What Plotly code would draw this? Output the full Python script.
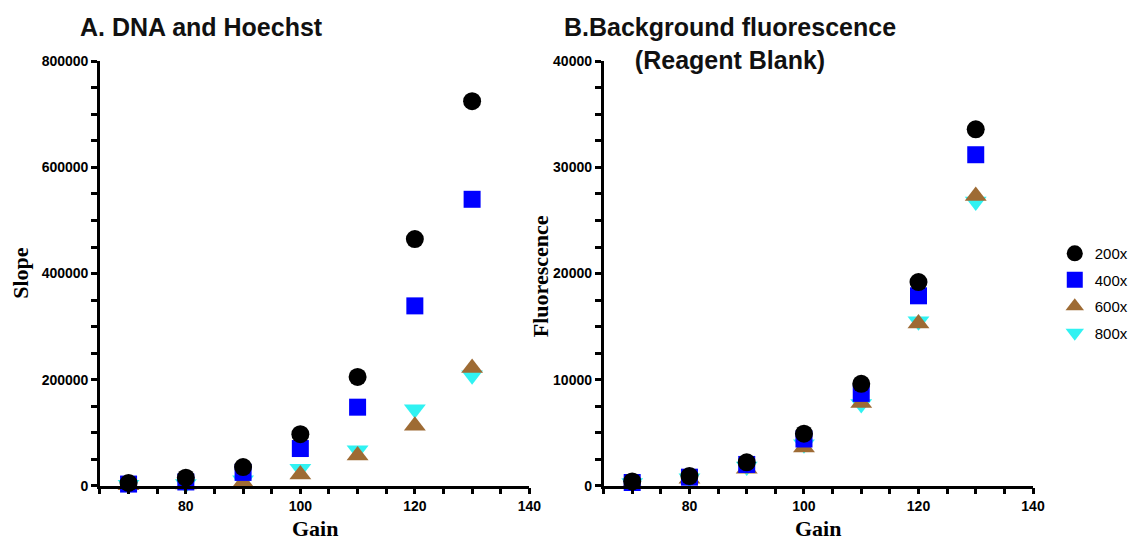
import plotly.graph_objects as go

W, H = 1139, 549

gain = [70, 80, 90, 100, 110, 120, 130]
series_names = ["200x", "400x", "600x", "800x"]

# Panel A: DNA and Hoechst (Slope)
slope_200 = [5000, 15000, 35000, 97000, 205000, 465000, 725000]
slope_400 = [3000, 7000, 25000, 70000, 148000, 339000, 540000]
slope_600 = [1000, 2000, 6000, 21000, 57000, 113000, 222000]
slope_800 = [1500, 3000, 10000, 32000, 67000, 144000, 208000]

# Panel B: Background fluorescence (Reagent Blank)
fluor_200 = [400, 900, 2200, 4900, 9600, 19200, 33600]
fluor_400 = [300, 800, 2000, 4400, 8700, 17900, 31200]
fluor_600 = [200, 650, 1600, 3600, 7800, 15300, 27300]
fluor_800 = [250, 700, 1800, 3900, 7700, 15500, 26800]

colors = {"200x": "#000000", "400x": "#0000FF", "600x": "#9E6B34", "800x": "#30F2F2"}
symbols = {"200x": "circle", "400x": "square", "600x": "triangle-up", "800x": "triangle-down"}
sizes = {"200x": 18, "400x": 17, "600x": 19, "800x": 19}
ranks = {"200x": 1, "400x": 2, "600x": 3, "800x": 4}

panelA = {"200x": slope_200, "400x": slope_400, "600x": slope_600, "800x": slope_800}
panelB = {"200x": fluor_200, "400x": fluor_400, "600x": fluor_600, "800x": fluor_800}

fig = go.Figure()
draw_order = ["800x", "600x", "400x", "200x"]
for name in draw_order:
    fig.add_trace(go.Scatter(
        x=gain, y=panelA[name], mode="markers", name=name, legendgroup=name,
        marker=dict(symbol=symbols[name], size=sizes[name], color=colors[name], line=dict(width=0)),
        xaxis="x", yaxis="y", cliponaxis=False, legendrank=ranks[name], showlegend=True,
    ))
for name in draw_order:
    fig.add_trace(go.Scatter(
        x=gain, y=panelB[name], mode="markers", name=name, legendgroup=name,
        marker=dict(symbol=symbols[name], size=sizes[name], color=colors[name], line=dict(width=0)),
        xaxis="x2", yaxis="y2", cliponaxis=False, showlegend=False,
    ))

tickfont = dict(family="Liberation Sans, Arial", size=14, color="black", weight="bold")

def px_x(p):
    return p / W

def px_y(p):
    return 1 - p / H

ydom = [px_y(492), px_y(55)]

xaxis_common = dict(
    range=[65, 140], tick0=0, dtick=20, ticks="outside", ticklen=6, tickwidth=2.5,
    showline=True, linewidth=2.5, linecolor="black", showgrid=False, zeroline=False,
    tickfont=tickfont, tickcolor="black",
    minor=dict(tick0=65, dtick=5, ticks="outside", ticklen=6, tickwidth=2.5, tickcolor="black", showgrid=False),
)

fig.update_layout(
    width=W, height=H,
    margin=dict(l=0, r=0, t=0, b=0),
    paper_bgcolor="white", plot_bgcolor="white",
    xaxis=dict(domain=[px_x(101), px_x(535)], anchor="y", **xaxis_common),
    xaxis2=dict(domain=[px_x(610), px_x(1044)], anchor="y2", **xaxis_common),
    yaxis=dict(
        domain=ydom, anchor="x", range=[0, 800000], dtick=200000, tickformat="d",
        ticks="outside", ticklen=6, tickwidth=2.5, tickcolor="black",
        showline=True, linewidth=2.5, linecolor="black", showgrid=False, zeroline=False,
        tickfont=tickfont,
        minor=dict(dtick=50000, ticks="outside", ticklen=6, tickwidth=2.5, tickcolor="black", showgrid=False),
    ),
    yaxis2=dict(
        domain=ydom, anchor="x2", range=[0, 40000], dtick=10000, tickformat="d",
        ticks="outside", ticklen=6, tickwidth=2.5, tickcolor="black",
        showline=True, linewidth=2.5, linecolor="black", showgrid=False, zeroline=False,
        tickfont=tickfont,
        minor=dict(dtick=2500, ticks="outside", ticklen=6, tickwidth=2.5, tickcolor="black", showgrid=False),
    ),
    legend=dict(
        x=px_x(1066), y=px_y(236), xanchor="left", yanchor="top",
        font=dict(family="Liberation Sans, Arial", size=15, color="black"),
        bgcolor="rgba(0,0,0,0)", tracegroupgap=4, itemsizing="trace",
    ),
    showlegend=True,
)

title_font = dict(family="Liberation Sans, Arial", size=25, color="#111111", weight="bold")
axis_title_font = dict(family="Liberation Serif, Times New Roman", size=22, color="black", weight="bold")

annotations = [
    dict(text="A. DNA and Hoechst", x=px_x(204), y=px_y(20), font=title_font),
    dict(text="B.Background fluorescence<br>(Reagent Blank)", x=px_x(738), y=px_y(37), font=title_font),
    dict(text="Slope", x=px_x(20), y=px_y(273), textangle=-90, font=axis_title_font),
    dict(text="Fluorescence", x=px_x(547), y=px_y(276), textangle=-90, font=axis_title_font),
    dict(text="Gain", x=px_x(318), y=px_y(536), font=axis_title_font),
    dict(text="Gain", x=px_x(827), y=px_y(536), font=axis_title_font),
]
for a in annotations:
    a.update(xref="paper", yref="paper", showarrow=False, xanchor="center", yanchor="middle")
fig.update_layout(annotations=annotations)

fig.write_html(
    "out.html",
    config={"displayModeBar": False},
    post_script="document.body.style.margin='0';document.body.style.overflow='hidden';",
)
